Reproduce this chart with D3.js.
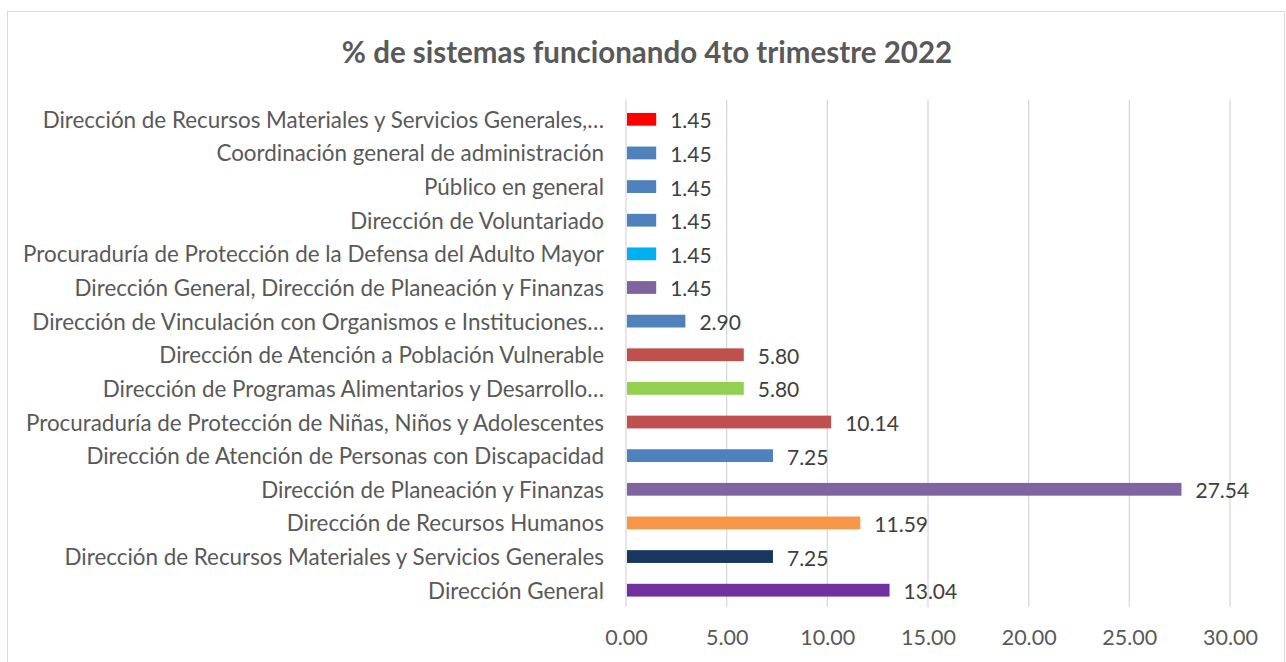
<!DOCTYPE html>
<html>
<head>
<meta charset="utf-8">
<script src="https://cdn.jsdelivr.net/npm/d3@7"></script>
<style>
  body { margin: 0; background: #fff; }
  svg { display: block; }
</style>
</head>
<body>
<svg id="chart" width="1286" height="662"></svg>
<script>
// data, top to bottom as drawn
var categories = [
  "Dirección de Recursos Materiales y Servicios Generales,…",
  "Coordinación general de administración",
  "Público en general",
  "Dirección de Voluntariado",
  "Procuraduría de Protección de la Defensa del Adulto Mayor",
  "Dirección General, Dirección de Planeación y Finanzas",
  "Dirección de Vinculación con Organismos e Instituciones…",
  "Dirección de Atención a Población Vulnerable",
  "Dirección de Programas Alimentarios y Desarrollo…",
  "Procuraduría de Protección de Niñas, Niños y Adolescentes",
  "Dirección de Atención de Personas con Discapacidad",
  "Dirección de Planeación y Finanzas",
  "Dirección de Recursos Humanos",
  "Dirección de Recursos Materiales y Servicios Generales",
  "Dirección General"
];
var values = [1.45, 1.45, 1.45, 1.45, 1.45, 1.45, 2.90, 5.80, 5.80, 10.14, 7.25, 27.54, 11.59, 7.25, 13.04];
var barColors = ["#FF0000", "#4F81BD", "#4F81BD", "#4F81BD", "#00B0F0", "#8064A2", "#4F81BD", "#C0504D",
                 "#92D050", "#C0504D", "#4F81BD", "#8064A2", "#F79646", "#17375E", "#7030A0"];
var xTicks = [0, 5, 10, 15, 20, 25, 30];
var title = "% de sistemas funcionando 4to trimestre 2022";

var svg = d3.select("#chart");
var font = "Lato, 'Open Sans', sans-serif";
var textColor = "#595959";

// chart frame
svg.append("rect")
    .attr("x", 7.5).attr("y", 11.5)
    .attr("width", 1277).attr("height", 660)
    .attr("fill", "#fff")
    .attr("stroke", "#d9d9d9")
    .attr("stroke-width", 1);

var plotLeft = 626, plotRight = 1230, plotTop = 102.5, plotBottom = 607;

var x = d3.scaleLinear().domain([0, 30]).range([plotLeft, plotRight]);
var y = d3.scaleBand().domain(categories).range([plotTop, plotBottom]).paddingInner(0.62).paddingOuter(0.31);

// gridlines
svg.append("g")
  .selectAll("line")
  .data(xTicks)
  .join("line")
    .attr("x1", function(d) { return x(d); })
    .attr("x2", function(d) { return x(d); })
    .attr("y1", plotTop - 3)
    .attr("y2", plotBottom)
    .attr("stroke", "#d9d9d9")
    .attr("stroke-width", 1.3);

// x axis labels
var xAxis = d3.axisBottom(x).tickValues(xTicks).tickSize(0).tickPadding(0)
    .tickFormat(d3.format(".2f"));
var gx = svg.append("g").attr("transform", "translate(0," + 630 + ")").call(xAxis);
gx.select(".domain").remove();
gx.selectAll("text")
    .attr("font-family", font)
    .attr("font-size", "21.5px")
    .attr("fill", textColor);

// category labels
var yAxis = d3.axisLeft(y).tickSize(0).tickPadding(22);
var gy = svg.append("g").attr("transform", "translate(" + plotLeft + ",0)").call(yAxis);
gy.select(".domain").remove();
gy.selectAll("text")
    .attr("font-family", font)
    .attr("font-size", "22.4px")
    .attr("fill", textColor)
    .attr("dy", "0.38em");

// bars
svg.append("g")
  .selectAll("rect")
  .data(values)
  .join("rect")
    .attr("x", x(0) + 1)
    .attr("y", function(d, i) { return y(categories[i]); })
    .attr("width", function(d) { return x(d) - x(0); })
    .attr("height", y.bandwidth())
    .attr("fill", function(d, i) { return barColors[i]; });

// value labels
svg.append("g")
  .selectAll("text")
  .data(values)
  .join("text")
    .attr("x", function(d) { return x(d) + 15; })
    .attr("y", function(d, i) { return y(categories[i]) + y.bandwidth() / 2 + 9; })
    .attr("font-family", font)
    .attr("font-size", "21px")
    .attr("fill", "#404040")
    .text(function(d) { return d3.format(".2f")(d); });

// title
svg.append("text")
    .attr("x", 647)
    .attr("y", 63)
    .attr("text-anchor", "middle")
    .attr("font-family", font)
    .attr("font-size", "29.5px")
    .attr("font-weight", "bold")
    .attr("fill", textColor)
    .text(title);
</script>
</body>
</html>
